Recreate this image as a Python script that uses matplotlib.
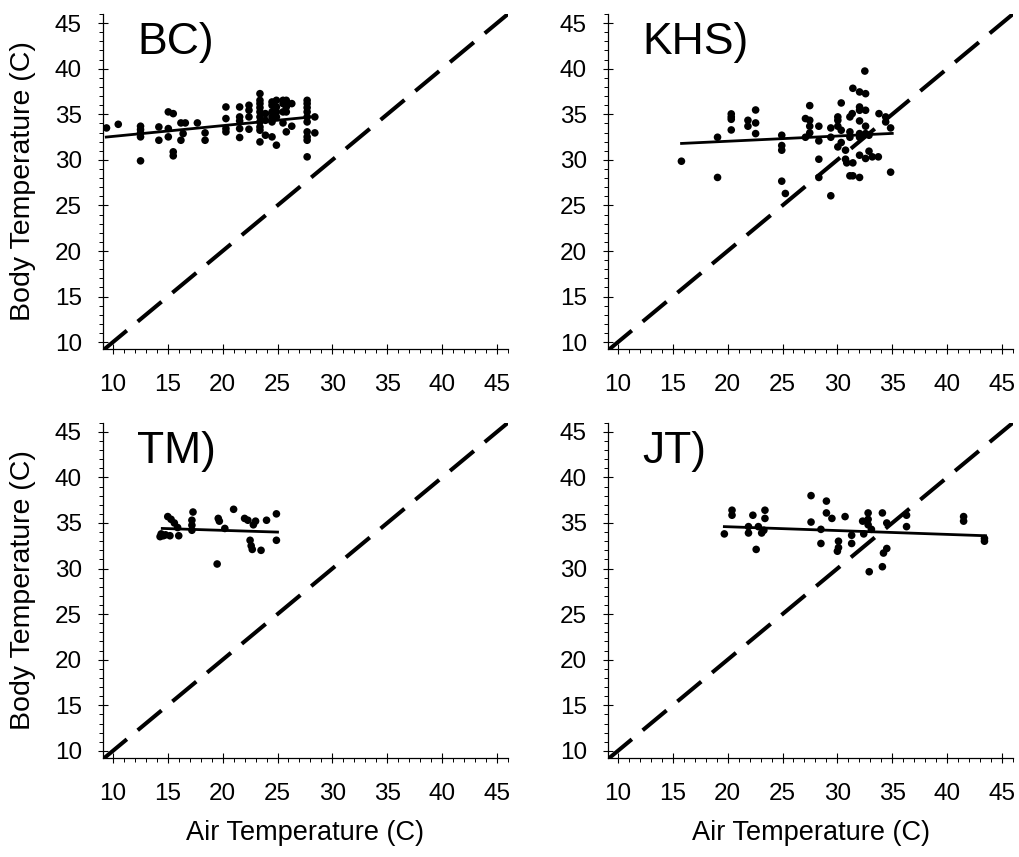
import matplotlib
matplotlib.use("Agg")
import matplotlib.pyplot as plt
from matplotlib.ticker import MultipleLocator
import numpy as np

plt.rcParams['font.family'] = ['Liberation Sans', 'DejaVu Sans']

# ---------------- data ----------------
bc_air = [9.42, 10.49,
          12.52, 12.52, 12.52, 12.52, 12.52,
          14.19, 14.19,
          15.05, 15.05, 15.05,
          15.5, 15.5, 15.5,
          16.2, 16.2, 16.6, 16.4, 17.7, 18.4, 18.4,
          20.3, 20.3, 20.3, 20.3,
          21.55, 21.55, 21.55, 21.55, 21.55,
          22.4, 22.4, 22.4, 22.4,
          23.4, 23.4, 23.4, 23.4, 23.4, 23.4, 23.4, 23.4, 23.4, 23.4,
          23.9, 23.9, 23.9,
          24.5, 24.5, 24.5, 24.5, 24.5, 24.5,
          24.9, 24.9, 24.9, 24.9, 24.9,
          25.5, 25.5, 25.5, 25.5,
          25.8, 25.8, 25.8, 25.8, 25.8,
          26.3, 26.3,
          27.7, 27.7, 27.7, 27.7, 27.7, 27.7, 27.7, 27.7, 27.7, 27.7,
          28.4, 28.4]
bc_body = [33.50, 33.90,
           33.69, 33.32, 32.96, 32.52, 29.89,
           33.61, 32.15,
           35.26, 33.43, 32.52,
           35.07, 30.88, 30.44,
           34.05, 32.15, 34.05, 32.88, 34.05, 32.96, 32.15,
           35.80, 34.53, 33.43, 33.07,
           35.80, 34.71, 34.27, 33.43, 32.45,
           35.99, 35.44, 34.71, 33.36,
           37.26, 36.53, 36.17, 35.73, 35.26, 34.71, 34.16, 33.61, 33.25, 31.97,
           35.07, 34.34, 32.70,
           36.35, 35.99, 35.26, 34.71, 34.16, 32.52,
           36.53, 35.80, 35.26, 34.71, 31.61,
           36.53, 36.17, 35.26, 34.05,
           36.53, 36.17, 35.80, 35.26, 33.07,
           36.17, 33.69,
           36.53, 36.17, 35.73, 35.26, 34.71, 34.16, 33.07, 32.52, 32.15, 30.33,
           34.71, 32.96]
bc_fit_x = [9.4, 28.0]
bc_fit_y = [32.5, 34.7]

khs_air = [15.79, 19.08, 19.08,
           20.33, 20.33, 20.33, 20.33,
           21.85, 21.85,
           22.55, 22.55, 22.55,
           24.93, 24.93, 24.93, 24.93, 25.26,
           27.09, 27.09,
           27.48, 27.48, 27.48, 27.48,
           28.31, 28.31, 28.31, 28.31,
           29.40, 29.40, 29.40,
           30.04, 30.04, 30.04, 30.04,
           30.35, 30.35, 30.35,
           30.74, 30.74, 30.85,
           31.14, 31.35, 31.14, 31.14, 31.41, 31.14, 31.41, 31.41,
           32.02, 32.02, 32.02, 32.02, 32.02, 32.02, 32.02, 32.02,
           32.57, 32.57, 32.57, 32.57, 32.57, 32.5,
           32.88, 32.88, 33.18, 33.73, 33.79,
           34.40, 34.40, 34.85, 34.85]
khs_body = [29.85, 32.48, 28.07,
            35.04, 34.71, 34.45, 33.28,
            34.34, 33.69,
            35.47, 34.05, 32.88,
            32.70, 31.57, 31.06, 27.66, 26.31,
            34.53, 32.48,
            35.95, 34.34, 33.69, 32.96,
            33.69, 32.08, 30.07, 28.07,
            33.50, 32.48, 26.06,
            34.71, 34.34, 33.69, 31.42,
            36.24, 33.25, 31.90,
            31.06, 30.07, 29.67,
            34.71, 35.07, 33.07, 32.48, 37.85, 28.25, 28.25, 29.67,
            37.45, 35.80, 35.44, 34.27, 32.88, 32.48, 30.51, 28.07,
            37.26, 35.44, 33.69, 32.88, 30.15, 39.74,
            32.70, 30.95, 30.33, 30.33, 35.07,
            34.71, 34.16, 33.50, 28.65]
khs_fit_x = [15.8, 35.0]
khs_fit_y = [31.8, 32.9]

tm_air = [14.3, 14.4, 14.6, 14.8, 15.0, 15.3, 15.2, 15.6, 15.9, 16.0,
          17.2, 17.2, 17.2, 17.3, 19.6, 19.7, 19.5, 20.2, 21.0,
          22.0, 22.3, 22.5, 22.6, 22.7, 22.8, 23.0, 23.5, 24.0,
          24.9, 24.9]
tm_body = [33.5, 33.8, 33.6, 33.7, 35.7, 35.4, 33.6, 35.0, 34.5, 33.6,
           35.3, 34.75, 34.2, 36.2, 35.5, 35.2, 30.5, 34.4, 36.5,
           35.5, 35.3, 33.1, 32.5, 32.1, 34.8, 35.2, 32.0, 35.3,
           36.0, 33.1]
tm_fit_x = [14.5, 25.0]
tm_fit_y = [34.4, 34.0]

jt_air = [19.7, 20.4, 20.4, 21.9, 21.9, 22.3, 22.6, 22.8, 23.1, 23.3, 23.4, 23.4,
          27.6, 27.6, 28.5, 28.5, 29.0, 29.0, 29.5, 30.1, 30.1, 30.0,
          30.7, 31.3, 31.3, 32.3, 32.4, 32.8, 32.8, 32.8, 32.9, 33.1,
          34.1, 34.1, 34.5, 34.5, 34.2, 36.3, 36.3, 41.5, 41.5, 43.4, 43.4]
jt_body = [33.8, 36.4, 35.85, 33.9, 34.6, 35.85, 32.1, 34.6, 33.9, 34.2, 35.5, 36.4,
           35.1, 38.0, 34.3, 32.75, 36.1, 37.4, 35.5, 33.0, 32.3, 31.9,
           35.7, 33.65, 32.75, 35.2, 33.8, 36.1, 35.4, 34.8, 29.65, 34.3,
           36.1, 30.2, 35.0, 32.2, 31.7, 34.6, 35.85, 35.7, 35.2, 33.3, 33.0]
jt_fit_x = [19.7, 43.5]
jt_fit_y = [34.6, 33.6]

panel_labels = ["BC)", "KHS)", "TM)", "JT)"]
tick_values = [10, 15, 20, 25, 30, 35, 40, 45]
x_label = "Air Temperature (C)"
y_label = "Body Temperature (C)"

panels = [(bc_air, bc_body, bc_fit_x, bc_fit_y),
          (khs_air, khs_body, khs_fit_x, khs_fit_y),
          (tm_air, tm_body, tm_fit_x, tm_fit_y),
          (jt_air, jt_body, jt_fit_x, jt_fit_y)]

# ---------------- figure ----------------
W, H = 1019, 857
fig = plt.figure(figsize=(W / 100, H / 100), dpi=100)

ax_w = 405 / W
ax_h = 335 / H
lefts = [103 / W, 608 / W]
bottoms = [1 - 349 / H, 1 - 757.7 / H]
positions = [(lefts[0], bottoms[0]), (lefts[1], bottoms[0]),
             (lefts[0], bottoms[1]), (lefts[1], bottoms[1])]

XLIM = (9.1, 46.0)
YLIM = (9.25, 46.0)

for (l, b), (ax_x, ax_y, fx, fy), lab in zip(positions, panels, panel_labels):
    ax = fig.add_axes([l, b, ax_w, ax_h])
    ax.set_xlim(*XLIM)
    ax.set_ylim(*YLIM)
    for s in ['top', 'right']:
        ax.spines[s].set_visible(False)
    for s in ['left', 'bottom']:
        ax.spines[s].set_linewidth(0.9)
    ax.set_xticks(tick_values)
    ax.set_yticks(tick_values)
    ax.xaxis.set_minor_locator(MultipleLocator(1))
    ax.yaxis.set_minor_locator(MultipleLocator(1))
    ax.tick_params(which='major', direction='inout', length=6.5, width=0.8,
                   labelsize=17.5)
    ax.tick_params(axis='x', which='major', pad=15)
    ax.tick_params(axis='y', which='major', pad=12)
    ax.tick_params(which='minor', direction='out', length=2.6, width=0.7)

    # identity (1:1) line
    diag = np.array(XLIM)
    ln, = ax.plot(diag, diag, color='black', lw=2.9, solid_capstyle='butt',
                  dash_capstyle='butt', zorder=2)
    ln.set_dashes([7.7, 3.5])

    ax.scatter(ax_x, ax_y, s=30, color='black', edgecolors='none', zorder=3)
    ax.plot(fx, fy, color='black', lw=2.0, zorder=4)

    ax.text(0.085, 0.975, lab, transform=ax.transAxes, fontsize=32,
            ha='left', va='top')

# axis titles
for yc in [(14 + 349) / 2, (422.7 + 757.7) / 2]:
    fig.text(23 / W, 1 - yc / H, y_label, rotation=90, ha='center',
             va='center', fontsize=20.5)
for xc in [(103 + 508) / 2, (608 + 1013) / 2]:
    fig.text(xc / W, 1 - 833 / H, x_label, ha='center', va='center',
             fontsize=19.5)

fig.savefig("out.png", dpi=100)
